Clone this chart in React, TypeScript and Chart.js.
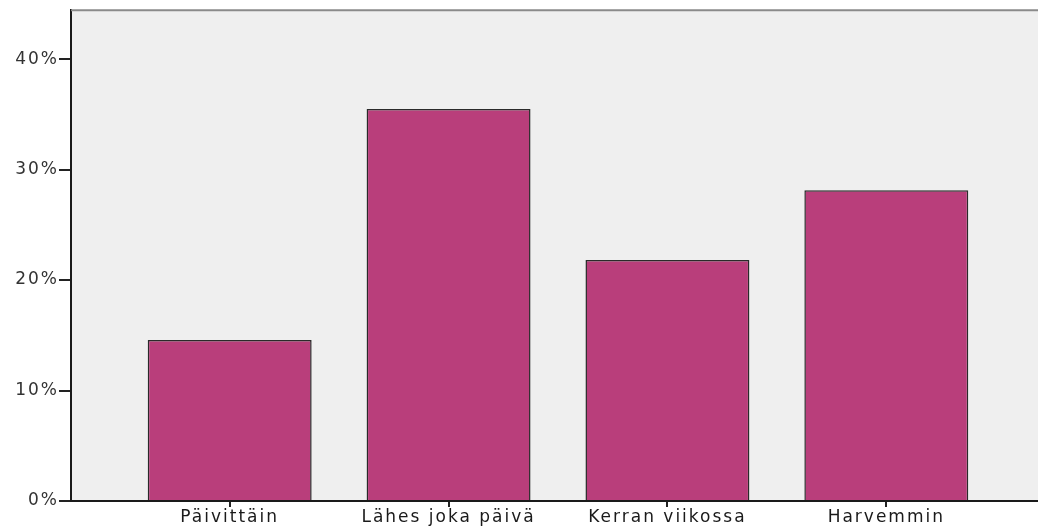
import React, { useEffect, useRef } from "react";
import { Chart, registerables } from "chart.js";

Chart.register(...registerables);

const categories = ["Päivittäin", "Lähes joka päivä", "Kerran viikossa", "Harvemmin"];
const percentValues = [14.57, 35.48, 21.81, 28.14];
const yTickValues = [0, 10, 20, 30, 40];

const BAR_COLOR = "#b93e7b";
const PLOT_BG = "#efefef";
const LETTER_SPACING = "2px";

export default function App() {
  const canvasRef = useRef<HTMLCanvasElement | null>(null);

  useEffect(() => {
    const canvas = canvasRef.current;
    if (!canvas) return;

    const spacingPlugin = {
      id: "spacingAndBg",
      beforeLayout(chart: any) {
        chart.ctx.letterSpacing = LETTER_SPACING;
      },
      beforeDraw(chart: any) {
        const { ctx, chartArea } = chart;
        ctx.save();
        ctx.fillStyle = "#ffffff";
        ctx.fillRect(0, 0, chart.width, chart.height);
        ctx.fillStyle = PLOT_BG;
        ctx.fillRect(chartArea.left, chartArea.top, chartArea.right - chartArea.left, chartArea.bottom - chartArea.top);
        ctx.restore();
        ctx.letterSpacing = LETTER_SPACING;
      },
      afterDraw(chart: any) {
        const { ctx, chartArea } = chart;
        ctx.save();
        ctx.strokeStyle = "#8a8a8a";
        ctx.lineWidth = 2;
        ctx.beginPath();
        ctx.moveTo(chartArea.left, chartArea.top);
        ctx.lineTo(chartArea.right, chartArea.top);
        ctx.stroke();
        ctx.restore();
      },
    };

    const chart = new Chart(canvas, {
      type: "bar",
      data: {
        datasets: [
          {
            data: percentValues.map((v, i) => ({ x: i, y: v })),
            backgroundColor: BAR_COLOR,
            borderColor: "#2a2a2a",
            borderWidth: 1.5,
            categoryPercentage: 1,
            barPercentage: 0.749,
          },
        ],
      },
      options: {
        responsive: false,
        animation: false,
        devicePixelRatio: 1,
        layout: { padding: { top: 10, right: 0, left: 0, bottom: 0 } },
        plugins: {
          legend: { display: false },
          tooltip: { enabled: false },
        },
        scales: {
          x: {
            type: "linear",
            offset: false,
            min: -0.725,
            max: 3.693,
            afterBuildTicks: (scale: any) => {
              scale.ticks = categories.map((_, i) => ({ value: i }));
            },
            afterFit: (scale: any) => {
              scale.height = 29;
            },
            ticks: {
              autoSkip: false,
              maxRotation: 0,
              padding: 0,
              color: "#1a1a1a",
              font: { family: "'DejaVu Sans', sans-serif", size: 17 },
              callback: (v: any) => categories[Math.round(Number(v))] ?? "",
            },
            grid: {
              offset: false,
              drawOnChartArea: false,
              drawTicks: true,
              tickLength: 6,
              color: "#222",
              lineWidth: 2,
            },
            border: { display: true, color: "#1a1a1a", width: 2 },
          },
          y: {
            type: "linear",
            min: 0,
            max: 44.43,
            afterBuildTicks: (scale: any) => {
              scale.ticks = yTickValues.map((v) => ({ value: v }));
            },
            afterFit: (scale: any) => {
              scale.width = 71;
            },
            ticks: {
              padding: 0,
              color: "#333",
              font: { family: "'DejaVu Sans', sans-serif", size: 17 },
              callback: (v: any) => `${v}%`,
            },
            grid: {
              drawOnChartArea: false,
              drawTicks: true,
              tickLength: 12,
              color: "#222",
              lineWidth: 2,
            },
            border: { display: true, color: "#1a1a1a", width: 2 },
          },
        },
      },
      plugins: [spacingPlugin],
    } as any);

    return () => chart.destroy();
  }, []);

  return (
    <div style={{ position: "absolute", left: 0, top: 0, width: 1038, height: 530 }}>
      <canvas ref={canvasRef} width={1038} height={530} style={{ display: "block" }} />
    </div>
  );
}
